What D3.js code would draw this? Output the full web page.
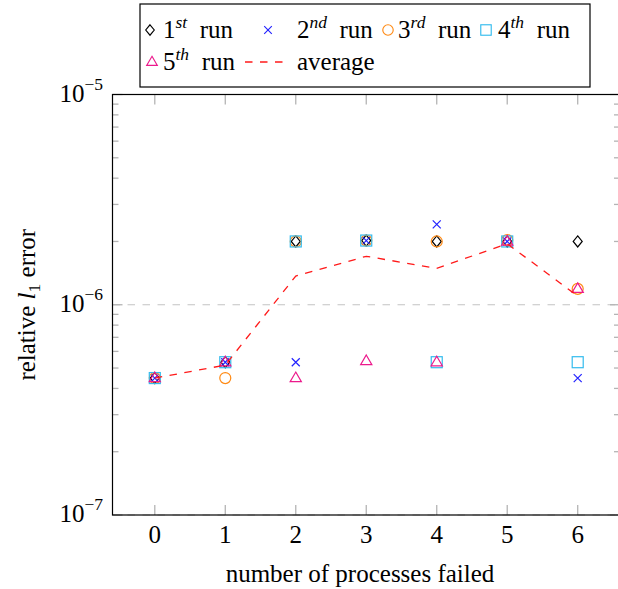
<!doctype html>
<html lang="en">
<head>
    <meta charset="UTF-8">
    <title>Relative l1 error vs failed processes</title>
    <script src="https://d3js.org/d3.v7.min.js"></script>
    <style>
      body { margin: 0; background: #fff; }
      svg { display: block; }
      text { font-family: "Liberation Serif", "DejaVu Serif", serif; fill: #000; }
    </style>
</head>
<body>
    <svg width="618" height="589"></svg>

    <script>

      // Data
      const failed = [0, 1, 2, 3, 4, 5, 6];
      const run1 = [4.48e-7, 5.33e-7, 2.0e-6, 2.02e-6, 2.0e-6, 2.0e-6, 2.0e-6];
      const run2 = [4.48e-7, 5.33e-7, 5.33e-7, 2.02e-6, 2.41e-6, 2.0e-6, 4.48e-7];
      const run3 = [4.48e-7, 4.48e-7, 2.0e-6, 2.02e-6, 2.0e-6, 2.03e-6, 1.19e-6];
      const run4 = [4.48e-7, 5.33e-7, 2.0e-6, 2.02e-6, 5.33e-7, 2.0e-6, 5.33e-7];
      const run5 = [4.48e-7, 5.33e-7, 4.48e-7, 5.4e-7, 5.33e-7, 2.0e-6, 1.19e-6];
      const average = [4.48e-7, 5.16e-7, 1.37e-6, 1.70e-6, 1.49e-6, 1.95e-6, 1.10e-6];
      const yMajor = [1e-7, 1e-6, 1e-5];
      const yExponents = ["\u22127", "\u22126", "\u22125"];

      const svg = d3.select("svg");
      const plotLeft = 112.5, plotRight = 620, plotTop = 94.5, plotBottom = 515;
      const fontSize = 25;

      // Scales
      const x = d3.scaleLinear().domain([-0.6, 6.6]).range([plotLeft, plotRight]);
      const y = d3.scaleLog().domain([1e-7, 1e-5]).range([plotBottom, plotTop]);

      // Minor ticks (2..9 per decade)
      const yMinor = [];
      [1e-7, 1e-6].forEach(d => { for (let k = 2; k <= 9; k++) yMinor.push(d * k); });

      // Grid at major ticks
      svg.append("g").selectAll("line")
          .data(yMajor)
          .join("line")
          .attr("x1", plotLeft).attr("x2", plotRight)
          .attr("y1", d => y(d)).attr("y2", d => y(d))
          .attr("stroke", "#c4c4c4")
          .attr("stroke-width", 1.2)
          .attr("stroke-dasharray", "7.5,7.5");

      // Ticks (inside, on all four sides)
      const ticks = svg.append("g").attr("stroke", "#b4b4b4").attr("stroke-width", 1.3);
      failed.forEach(v => {
        ticks.append("line").attr("x1", x(v)).attr("x2", x(v)).attr("y1", plotBottom).attr("y2", plotBottom - 10);
        ticks.append("line").attr("x1", x(v)).attr("x2", x(v)).attr("y1", plotTop).attr("y2", plotTop + 10);
      });
      yMajor.forEach(v => {
        ticks.append("line").attr("x1", plotLeft).attr("x2", plotLeft + 10).attr("y1", y(v)).attr("y2", y(v));
        ticks.append("line").attr("x1", plotRight).attr("x2", plotRight - 10).attr("y1", y(v)).attr("y2", y(v));
      });
      yMinor.forEach(v => {
        ticks.append("line").attr("x1", plotLeft).attr("x2", plotLeft + 6).attr("y1", y(v)).attr("y2", y(v));
        ticks.append("line").attr("x1", plotRight).attr("x2", plotRight - 6).attr("y1", y(v)).attr("y2", y(v));
      });

      // Axis frame
      svg.append("rect")
          .attr("x", plotLeft).attr("y", plotTop)
          .attr("width", plotRight - plotLeft).attr("height", plotBottom - plotTop)
          .attr("fill", "none").attr("stroke", "#000").attr("stroke-width", 1.2);

      // X tick labels
      svg.append("g").selectAll("text")
          .data(failed)
          .join("text")
          .attr("x", d => x(d))
          .attr("y", plotBottom + 28)
          .attr("text-anchor", "middle")
          .attr("font-size", fontSize)
          .text(d => d);

      // Y tick labels: 10^{-n}
      yMajor.forEach((v, i) => {
        const t = svg.append("text")
            .attr("x", 103)
            .attr("y", y(v) + 7)
            .attr("text-anchor", "end")
            .attr("font-size", fontSize);
        t.append("tspan").text("10");
        t.append("tspan").attr("dy", -12).attr("font-size", 17.5).text(yExponents[i]);
      });

      // Axis labels
      svg.append("text")
          .attr("x", 360).attr("y", 582)
          .attr("text-anchor", "middle")
          .attr("font-size", fontSize)
          .text("number of processes failed");

      const yl = svg.append("text")
          .attr("transform", `translate(35,${(plotTop + plotBottom) / 2}) rotate(-90)`)
          .attr("text-anchor", "middle")
          .attr("font-size", fontSize);
      yl.append("tspan").text("relative ");
      yl.append("tspan").attr("font-style", "italic").text("l");
      yl.append("tspan").attr("dy", 5).attr("font-size", 17.5).text("1");
      yl.append("tspan").attr("dy", -5).text(" error");

      // Marker shapes
      const shapes = {
        diamond: (g, c) => g.append("path").attr("d", "M0,-5.5L4.5,0L0,5.5L-4.5,0Z")
            .attr("fill", "none").attr("stroke", c).attr("stroke-width", 1.2),
        cross: (g, c) => g.append("path").attr("d", "M-4,-4L4,4M-4,4L4,-4")
            .attr("fill", "none").attr("stroke", c).attr("stroke-width", 1.2),
        circle: (g, c) => g.append("circle").attr("r", 5.5)
            .attr("fill", "none").attr("stroke", c).attr("stroke-width", 1.2),
        square: (g, c) => g.append("rect").attr("x", -5.5).attr("y", -5.5).attr("width", 11).attr("height", 11)
            .attr("fill", "none").attr("stroke", c).attr("stroke-width", 1.2),
        triangle: (g, c) => g.append("path").attr("d", "M0,-6L5.6,3.6L-5.6,3.6Z")
            .attr("fill", "none").attr("stroke", c).attr("stroke-width", 1.2)
      };

      const series = [
        { values: run1, shape: "diamond", color: "#000000" },
        { values: run2, shape: "cross", color: "#2323ff" },
        { values: run3, shape: "circle", color: "#ff8a14" },
        { values: run4, shape: "square", color: "#33bbee" },
        { values: run5, shape: "triangle", color: "#ec1a8c" }
      ];

      series.forEach(s => {
        s.values.forEach((v, i) => {
          const g = svg.append("g").attr("transform", `translate(${x(failed[i])},${y(v)})`);
          shapes[s.shape](g, s.color);
        });
      });

      // Average line (dashed)
      const line = d3.line()
          .x((d, i) => x(failed[i]))
          .y(d => y(d));

      svg.append("path")
          .datum(average)
          .attr("d", line)
          .attr("fill", "none")
          .attr("stroke", "#ff1a1a")
          .attr("stroke-width", 1.3)
          .attr("stroke-dasharray", "7.5,7.5");

      // Legend
      const legend = svg.append("g");
      legend.append("rect")
          .attr("x", 140).attr("y", 4)
          .attr("width", 450).attr("height", 83)
          .attr("fill", "#fff").attr("stroke", "#000").attr("stroke-width", 1.2);

      const legendItems = [
        { mark: "diamond", color: "#000000", mx: 150, tx: 163, row: 0, num: "1", sup: "st" },
        { mark: "cross", color: "#2323ff", mx: 268, tx: 297, row: 0, num: "2", sup: "nd" },
        { mark: "circle", color: "#ff8a14", mx: 388, tx: 398, row: 0, num: "3", sup: "rd" },
        { mark: "square", color: "#33bbee", mx: 486, tx: 498, row: 0, num: "4", sup: "th" },
        { mark: "triangle", color: "#ec1a8c", mx: 152, tx: 163, row: 1, num: "5", sup: "th" }
      ];
      const rowY = [30, 62];

      legendItems.forEach(it => {
        const g = legend.append("g")
            .attr("transform", `translate(${it.mx},${rowY[it.row]}) scale(0.95)`);
        shapes[it.mark](g, it.color);
        const t = legend.append("text")
            .attr("x", it.tx).attr("y", rowY[it.row] + 8)
            .attr("font-size", fontSize);
        t.append("tspan").text(it.num);
        t.append("tspan").attr("dy", -10).attr("font-size", 17.5).attr("font-style", "italic").text(it.sup);
        t.append("tspan").attr("dy", 10).text("\u2002run");
      });

      legend.append("line")
          .attr("x1", 245).attr("x2", 287)
          .attr("y1", rowY[1]).attr("y2", rowY[1])
          .attr("stroke", "#ff1a1a").attr("stroke-width", 1.3)
          .attr("stroke-dasharray", "7.5,7.5");
      legend.append("text")
          .attr("x", 297).attr("y", rowY[1] + 8)
          .attr("font-size", fontSize)
          .text("average");

    </script>

</body>
</html>
